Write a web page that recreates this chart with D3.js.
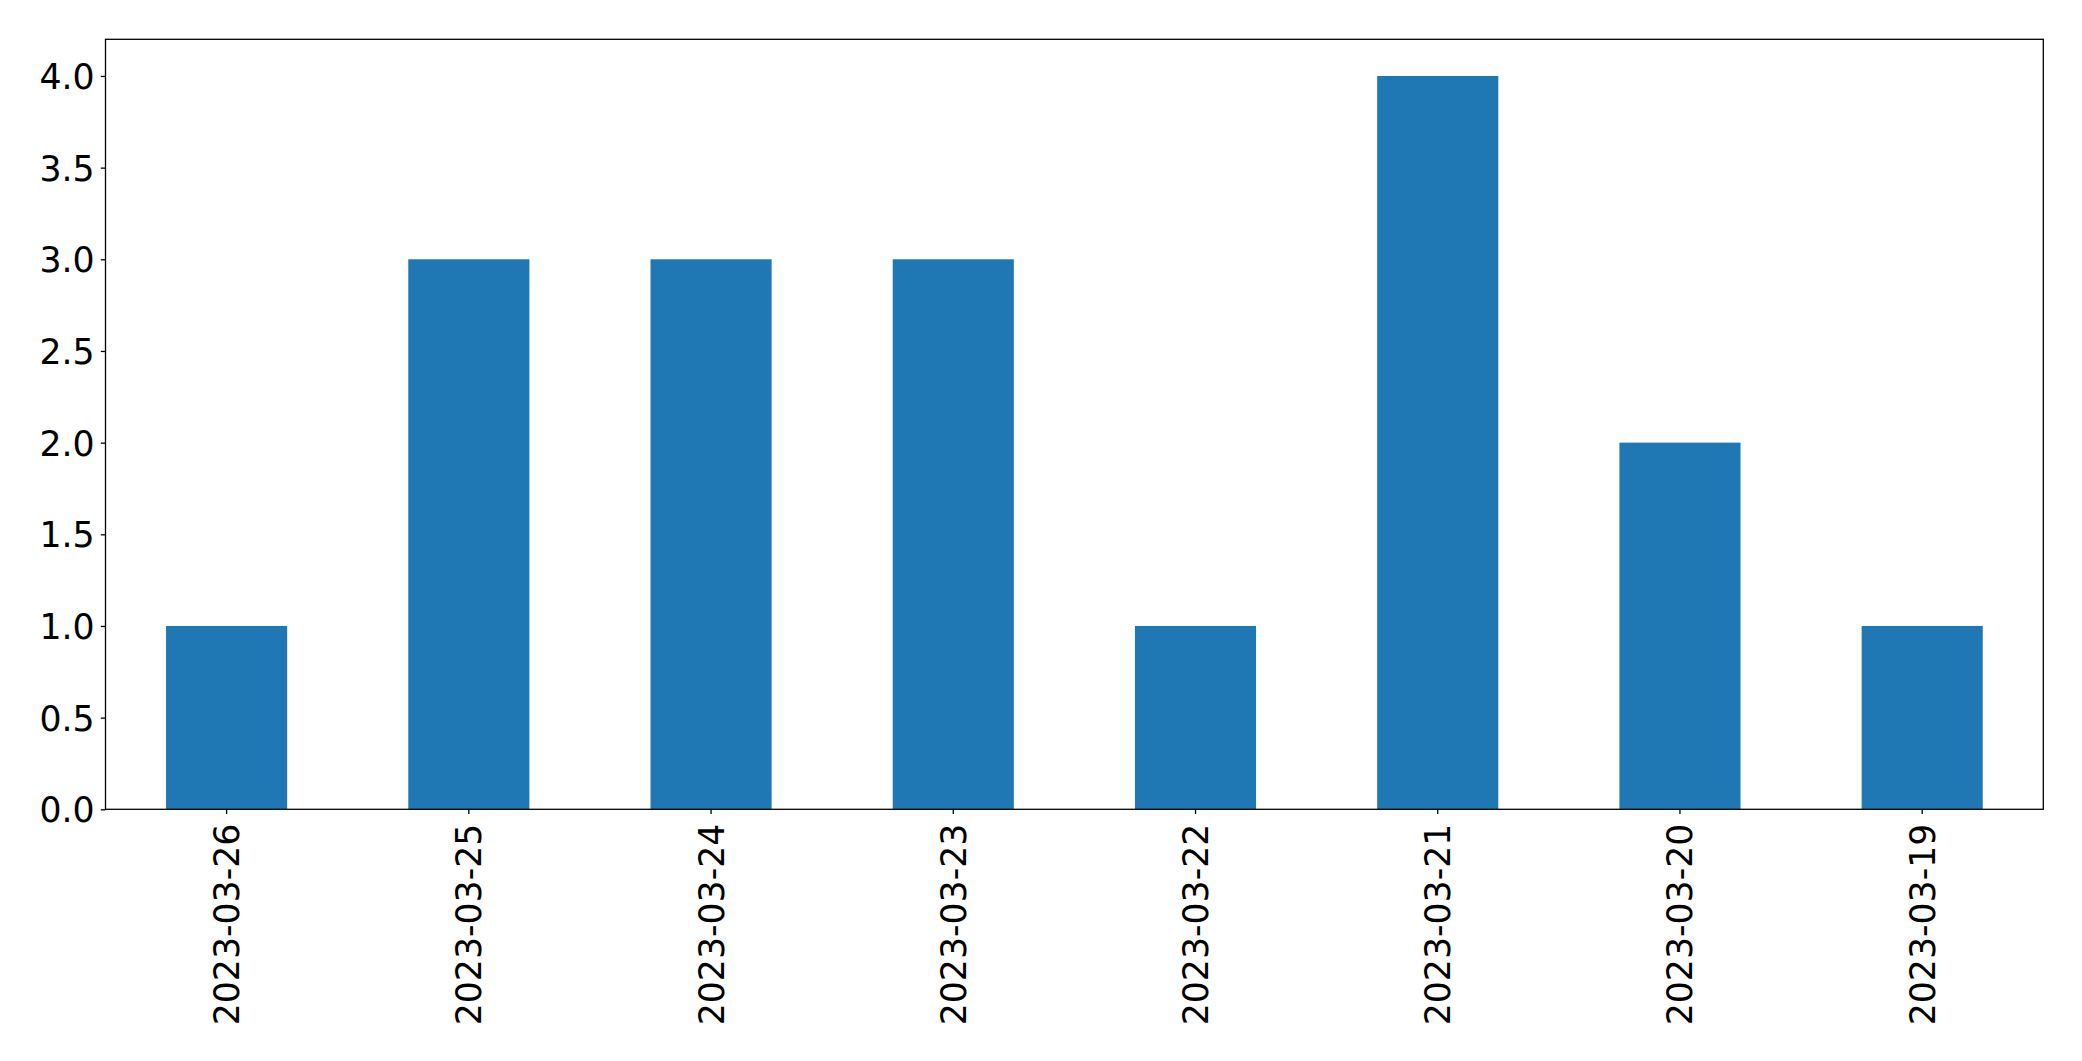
<!DOCTYPE html>
<html><head><meta charset="utf-8">
<script src="https://cdn.jsdelivr.net/npm/d3@7"></script>
<style>body{margin:0;background:#fff}svg{display:block}text{font-family:"DejaVu Sans",sans-serif;fill:#000}</style>
</head><body>
<svg id="c" width="2082" height="1061"></svg>
<script>
const categories = ["2023-03-26","2023-03-25","2023-03-24","2023-03-23","2023-03-22","2023-03-21","2023-03-20","2023-03-19"];
const values = [1,3,3,3,1,4,2,1];
const yTicks = [0,0.5,1,1.5,2,2.5,3,3.5,4];

const m = {left:105.5, right:2043.3, top:39.3, bottom:809.3};
const svg = d3.select("#c");
const x = d3.scaleBand().domain(categories).range([m.left,m.right]).paddingInner(0.5).paddingOuter(0.25);
const y = d3.scaleLinear().domain([0,4.2]).range([m.bottom,m.top]);

svg.selectAll("rect.bar").data(values).join("rect").attr("class","bar")
  .attr("x",(d,i)=>x(categories[i])).attr("width",x.bandwidth())
  .attr("y",d=>y(d)).attr("height",d=>y(0)-y(d)).attr("fill","#1f77b4");

const ya = svg.append("g").attr("transform",`translate(${m.left},0)`)
  .call(d3.axisLeft(y).tickValues(yTicks).tickFormat(d3.format(".1f")).tickSize(4.7).tickPadding(6.2));
ya.select(".domain").remove();
ya.selectAll("text").style("font-size","34.7px").attr("dy","0.36em");
ya.selectAll("line").attr("stroke","#000").attr("stroke-width",1.3);

const xa = svg.append("g").attr("transform",`translate(0,${m.bottom})`)
  .call(d3.axisBottom(x).tickSize(4.7).tickPadding(0));
xa.select(".domain").remove();
xa.selectAll("line").attr("stroke","#000").attr("stroke-width",1.3);
xa.selectAll("text").style("font-size","34.7px")
  .attr("text-anchor","end").attr("y",null).attr("dy","0.36em")
  .attr("transform","translate(0,14.4) rotate(-90)");

svg.append("rect").attr("x",m.left).attr("y",m.top).attr("width",m.right-m.left).attr("height",m.bottom-m.top)
  .attr("fill","none").attr("stroke","#000").attr("stroke-width",1.3);
</script>
</body></html>
